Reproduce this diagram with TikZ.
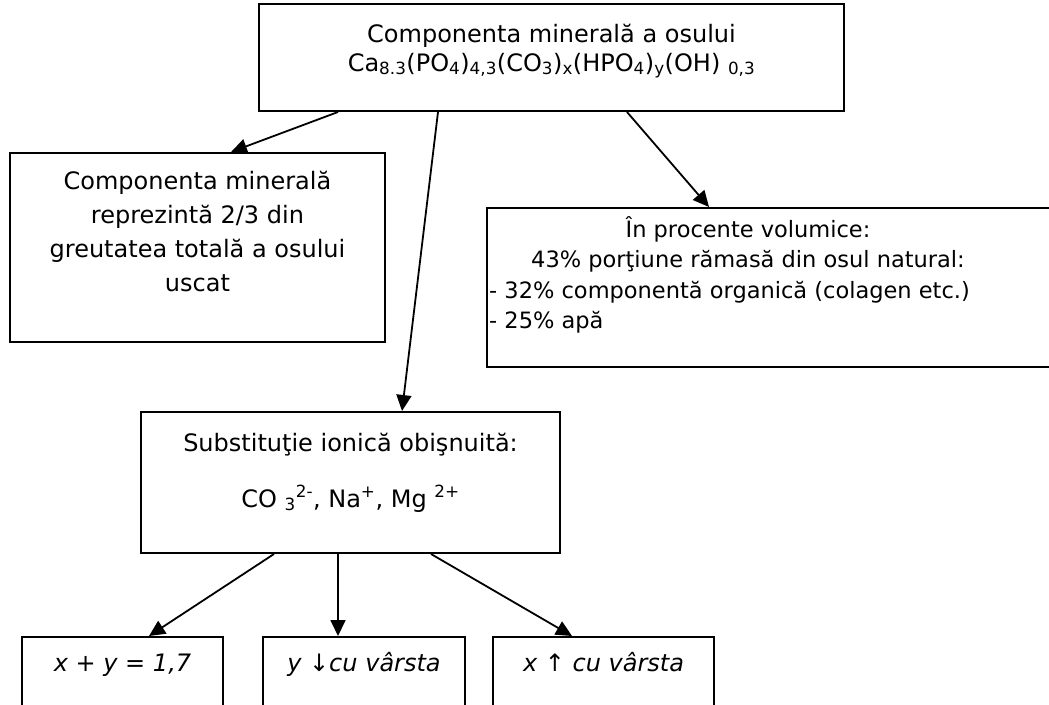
\documentclass[tikz,border=0pt]{standalone}
\usepackage{fontspec}
\setmainfont{DejaVu Sans}
\usetikzlibrary{arrows.meta}
\begin{document}
\begin{tikzpicture}[x=1pt,y=-1pt,
  box/.style={draw,line width=2pt,rectangle,inner sep=0pt},
  arr/.style={line width=1.8pt,-{Triangle[length=16pt,width=15pt]}},
  txt/.style={font=\fontsize{24}{28}\selectfont,anchor=base,inner sep=0pt},
  txtr/.style={txt,font=\fontsize{22.5}{27}\selectfont},
  txtl/.style={txtr,anchor=base west}]
\useasboundingbox (0,0) rectangle (1049,704);
\clip (0,0) rectangle (1049,704);
% boxes
\node[box,minimum width=585pt,minimum height=107pt] (top) at (551.5,57.5) {};
\node[box,minimum width=375pt,minimum height=189pt] (left) at (197.5,247.5) {};
\node[box,minimum width=583pt,minimum height=159pt] (right) at (778.5,287.5) {};
\node[box,minimum width=419pt,minimum height=141pt] (mid) at (350.5,482.5) {};
\node[box,minimum width=201pt,minimum height=83pt] (b1) at (122.5,678.5) {};
\node[box,minimum width=202pt,minimum height=83pt] (b2) at (364,678.5) {};
\node[box,minimum width=221pt,minimum height=83pt] (b3) at (603.5,678.5) {};
% texts
\node[txt] (t1) at (551.5,42) {Componenta mineral\u{a} a osului};
\node[txt] (t2) at (551.5,71) {Ca\textsubscript{8.3}(PO\textsubscript{4})\textsubscript{4,3}(CO\textsubscript{3})\textsubscript{x}(HPO\textsubscript{4})\textsubscript{y}(OH) \textsubscript{0,3}};
\node[txt] (l1) at (197.5,189) {Componenta mineral\u{a}};
\node[txt] (l2) at (197.5,223) {reprezint\u{a} 2/3 din};
\node[txt] (l3) at (197.5,257) {greutatea total\u{a} a osului};
\node[txt] (l4) at (197.5,291) {uscat};
\node[txtr] (r1) at (748,237) {În procente volumice:};
\node[txtr] (r2) at (748,267) {43\% porţiune r\u{a}mas\u{a} din osul natural:};
\node[txtl] (r3) at (489,298) {- 32\% component\u{a} organic\u{a} (colagen etc.)};
\node[txtl] (r4) at (489,328) {- 25\% ap\u{a}};
\node[txt] (m1) at (350.5,451) {Substituţie ionic\u{a} obişnuit\u{a}:};
\node[txt] (m2) at (350.5,507) {CO \textsubscript{3}\textsuperscript{2-}, Na\textsuperscript{+}, Mg \textsuperscript{2+}};
\node[txt] (c1) at (122.5,671) {\itshape x + y = 1,7};
\node[txt] (c2) at (364,671) {\itshape y ↓cu vârsta};
\node[txt] (c3) at (603.5,671) {\itshape x ↑ cu vârsta};
% arrows
\draw[arr] ([xshift=80pt]top.south west) -- ([xshift=222pt]left.north west);
\draw[arr] ([xshift=180pt]top.south west) -- ([xshift=262pt]mid.north west);
\draw[arr] ([xshift=369pt]top.south west) -- ([xshift=223pt]right.north west);
\draw[arr] ([xshift=134pt]mid.south west) -- ([xshift=128pt]b1.north west);
\draw[arr] ([xshift=198pt]mid.south west) -- ([xshift=76pt]b2.north west);
\draw[arr] ([xshift=291pt]mid.south west) -- ([xshift=80pt]b3.north west);
\end{tikzpicture}
\end{document}
